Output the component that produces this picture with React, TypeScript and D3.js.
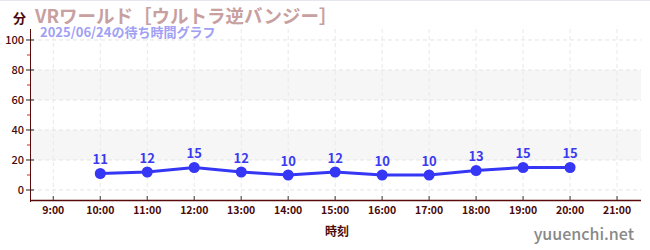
import React from "react";
import * as d3 from "d3";

const hours = [10, 11, 12, 13, 14, 15, 16, 17, 18, 19, 20];
const waits = [11, 12, 15, 12, 10, 12, 10, 10, 13, 15, 15];
const xTicks = [9, 10, 11, 12, 13, 14, 15, 16, 17, 18, 19, 20, 21];
const yTicks = [0, 20, 40, 60, 80, 100];
const yMinor = [10, 30, 50, 70, 90];
const bands = [[20, 40], [60, 80]];

const W = 650, H = 250;
const left = 31, right = 641, top = 29, bottom = 200;

export default function App() {
  const x = d3.scaleLinear().domain([8.525, 21.51]).range([left, right]);
  const y = d3.scaleLinear().domain([-6.67, 107.33]).range([bottom, top]);
  const line = d3.line<number>().x((_, i) => x(hours[i])).y((d) => y(d));
  const font = "'Noto Sans CJK JP', 'Noto Sans', sans-serif";
  const axisColor = "#5a0a0a";
  return (
    <svg width={W} height={H} style={{ position: "absolute", left: 0, top: 0 }} fontFamily={font}>
      <rect width={W} height={H} fill="#fff" />
      <line x1={0} x2={W} y1={0.5} y2={0.5} stroke="#e6e6f0" />
      {bands.map(([a, b], i) => (
        <rect key={i} x={left} width={right - left} y={y(b)} height={y(a) - y(b)} fill="#f6f6f6" />
      ))}
      {yTicks.map((t) => (
        <line key={"gy" + t} x1={left} x2={right} y1={y(t)} y2={y(t)} stroke="#e4e4e4" strokeDasharray="4,3" />
      ))}
      {xTicks.map((t) => (
        <line key={"gx" + t} x1={x(t)} x2={x(t)} y1={top} y2={bottom} stroke="#e8e8e8" strokeDasharray="4,3" />
      ))}
      {/* y axis */}
      <line x1={left - 0.5} x2={left - 0.5} y1={top} y2={bottom + 2} stroke={axisColor} strokeWidth={1} />
      {yTicks.map((t) => (
        <g key={"yt" + t}>
          <line x1={left - 5} x2={left + 3} y1={y(t)} y2={y(t)} stroke="#222" strokeWidth={1} />
          <text x={left - 7} y={y(t)} dy="0.35em" textAnchor="end" fontSize={11} fill="#4a0a0a" fontWeight={500}>{t}</text>
        </g>
      ))}
      {yMinor.map((t) => (
        <line key={"ym" + t} x1={left - 4} x2={left - 1} y1={y(t)} y2={y(t)} stroke="#dd2222" strokeWidth={1} />
      ))}
      {/* x axis */}
      <line x1={left - 1} x2={right} y1={bottom + 0.5} y2={bottom + 0.5} stroke={axisColor} strokeWidth={1.5} />
      {xTicks.map((t) => (
        <g key={"xt" + t}>
          <line x1={x(t)} x2={x(t)} y1={bottom - 4} y2={bottom} stroke="#555" strokeWidth={1.2} />
          <text x={x(t)} y={bottom + 14} textAnchor="middle" fontSize={10.5} fill="#4a0a0a" fontWeight={600}>{t}:00</text>
        </g>
      ))}
      {/* data */}
      <path d={line(waits) || ""} fill="none" stroke="#3636f5" strokeWidth={3} />
      {waits.map((v, i) => (
        <g key={"p" + i}>
          <circle cx={x(hours[i])} cy={y(v)} r={5.5} fill="#3636f5" />
          <text x={x(hours[i])} y={y(v) - 9} textAnchor="middle" fontSize={13} fontWeight={700} fill="#3a3af0">{v}</text>
        </g>
      ))}
      {/* titles */}
      <text x={13} y={23} fontSize={13} fontWeight={700} fill="#4a0a0a">分</text>
      <text x={35} y={23} fontSize={18.5} fontWeight={700} fill="#c8a0a0">VRワールド［ウルトラ逆バンジー］</text>
      <text x={40} y={37} fontSize={13} fontWeight={700} fill="#a0a0f4">2025/06/24の待ち時間グラフ</text>
      <text x={337} y={236} textAnchor="middle" fontSize={12} fontWeight={700} fill="#4a0a0a">時刻</text>
      <text x={634} y={240} textAnchor="end" fontSize={16} fontWeight={500} fill="#888">yuuenchi.net</text>
    </svg>
  );
}
